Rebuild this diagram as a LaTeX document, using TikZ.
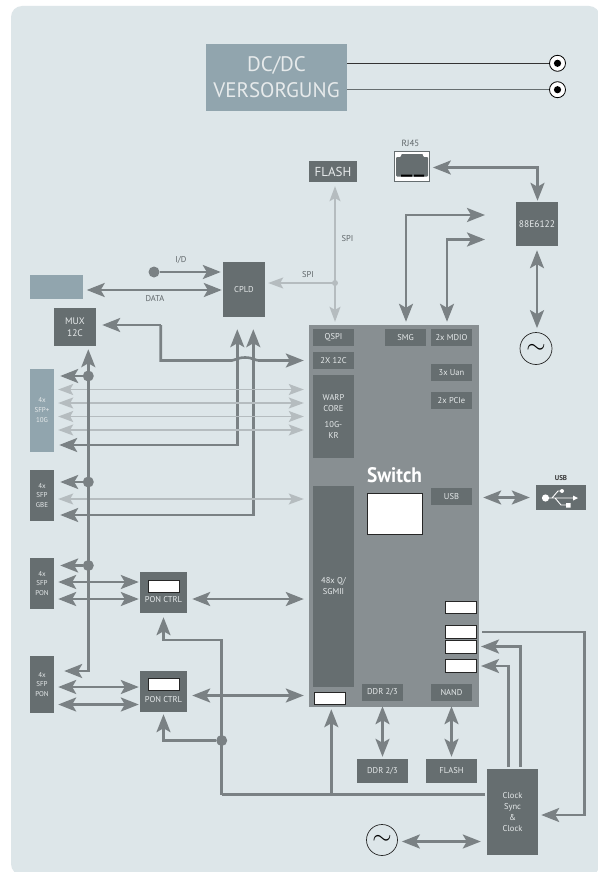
\documentclass[tikz,border=0pt]{standalone}
\usepackage{fontspec}
\setmainfont{PT Sans}
\usetikzlibrary{arrows.meta,calc}
\definecolor{panelbg}{HTML}{DDE6E9}
\definecolor{bluebox}{HTML}{91A5AE}
\definecolor{darkbox}{HTML}{666E70}
\definecolor{switchbg}{HTML}{888F92}
\definecolor{wire}{HTML}{7A8184}
\definecolor{litewire}{HTML}{B5BCBF}
\definecolor{boxtext}{HTML}{E6EAEB}
\definecolor{labeltext}{HTML}{5F6669}

\begin{document}
\begin{tikzpicture}[
    x=1pt, y=-1pt,
    block/.style={fill=darkbox, text=boxtext, align=center, inner sep=0pt, font=\fontsize{8.5}{11}\selectfont},
    blue/.style={block, fill=bluebox},
    port/.style={block, minimum width=41pt, minimum height=17pt},
    slot/.style={draw=black!85, line width=1pt, fill=white, inner sep=0pt},
    label/.style={text=labeltext, inner sep=0pt, font=\fontsize{8.5}{10}\selectfont},
    osc/.style={draw=black!85, fill=none, circle, inner sep=0pt, line width=0.7pt},
    dot/.style={circle, fill=wire, inner sep=0pt, minimum size=11pt},
    biggie/.style={line width=2.6pt, draw=wire, {Stealth[length=18pt,width=14pt,inset=4pt,fill=wire]}-{Stealth[length=18pt,width=14pt,inset=4pt,fill=wire]}},
    oneway/.style={line width=2.6pt, draw=wire, -{Stealth[length=18pt,width=14pt,inset=4pt,fill=wire]}},
    plain/.style={line width=2.6pt, draw=wire},
    lite/.style={line width=1.4pt, draw=litewire, {Stealth[length=15pt,width=11pt,inset=3pt,fill=litewire]}-{Stealth[length=15pt,width=11pt,inset=3pt,fill=litewire]}},
    liteone/.style={line width=1.4pt, draw=litewire, -{Stealth[length=15pt,width=11pt,inset=3pt,fill=litewire]}},
  ]
    \useasboundingbox (0,0) rectangle (597,872);
    \fill[white] (0,0) rectangle (597,872);
    \fill[panelbg, rounded corners=11pt] (11,6) rectangle (600,875);

    % supply
    \node[blue, minimum width=141pt, minimum height=67pt, font=\fontsize{21}{26}\selectfont] (dcdc) at (276.5,77.5) {DC/DC\\VERSORGUNG};
    \node[circle, draw=black, fill=white, line width=0.8pt, minimum size=16pt, inner sep=0pt] (pwra) at (557.5,63.3) {};
    \node[circle, draw=black, fill=white, line width=0.8pt, minimum size=16pt, inner sep=0pt] (pwrb) at (557.5,89.7) {};
    \fill[black] (pwra) circle (3.6pt) (pwrb) circle (3.6pt);
    \draw[line width=0.8pt, draw=black!80] (dcdc.east |- pwra) -- (pwra);
    \draw[line width=1.5pt, draw=darkbox] (dcdc.east |- pwrb) -- (pwrb);

    % top right
    \node[label, font=\fontsize{9}{10}\selectfont] (rjlabel) at (410.5,143.5) {RJ45};
    \node[draw=darkbox, fill=white, line width=0.7pt, minimum width=35pt, minimum height=30pt, inner sep=0pt] (rj) at (412,166.5) {};
    \fill[darkbox, rounded corners=1pt] (396,157) -- (401,157) -- (401,154) -- (423,154) -- (423,157) -- (428,157) -- (428,176.5) -- (396,176.5) -- cycle;
    \fill[black] (401,174.5) rectangle (412,176.5) (414,174.5) rectangle (424,176.5);
    \fill[white] (397,153) rectangle (401,155.5) (423,153) rectangle (427,155.5);
    \node[block, minimum width=42pt, minimum height=44pt, font=\fontsize{9.5}{11}\selectfont] (phy) at (537,224) {88E6122};
    \node[osc, minimum size=32pt] (oscb) at (536,348.5) {\fontsize{32}{32}\selectfont$\sim$};
    \node[block, minimum width=48pt, minimum height=21pt, font=\fontsize{13}{14}\selectfont] (flasha) at (333,171.5) {FLASH};
    \node[block, minimum width=42pt, minimum height=55pt] (cpld) at (244,289.5) {CPLD};
    \node[blue, minimum width=53pt, minimum height=24pt] (bluea) at (56.5,287) {};
    \node[block, minimum width=42pt, minimum height=38pt, font=\fontsize{9.5}{11.5}\selectfont] (mux) at (75,327) {MUX\\12C};
    \coordinate (iostart) at (154,272);
    \node[dot] (iodot) at (iostart) {};
    \coordinate (spijoin) at (335,283);

    % switch
    \node[fill=switchbg, minimum width=170pt, minimum height=382pt, inner sep=0pt] (sw) at (394,516) {};
    \node[port] (qspi) at (333.5,337.5) {QSPI};
    \node[port] (itwoc) at (333.5,360.5) {2X 12C};
    \node[block, minimum width=41pt, minimum height=83pt] (warp) at (333.5,416.5) {WARP\\CORE\\[5pt]10G-\\KR};
    \node[block, minimum width=41pt, minimum height=201pt] (sgmii) at (333.5,586.5) {48x Q/\\SGMII};
    \node[slot, minimum width=31pt, minimum height=12pt] (slotpon) at (329.5,698) {};
    \node[port] (smg) at (405.5,337.5) {SMG};
    \node[port] (mdio) at (451.5,337.5) {2x MDIO};
    \node[port] (uan) at (451.5,372.5) {3x Uan};
    \node[port] (pcie) at (451.5,400.5) {2x PCIe};
    \node[port] (usbp) at (451.5,496.5) {USB};
    \node[port] (ddrp) at (382.5,692.5) {DDR 2/3};
    \node[port] (nand) at (451.5,692.5) {NAND};
    \node[text=white, inner sep=0pt, font=\fontsize{21}{24}\bfseries\selectfont, xscale=0.92] (swname) at (394.5,475) {Switch};
    \node[slot, minimum width=55pt, minimum height=41pt] (slotmain) at (394.5,514) {};
    \node[slot, minimum width=31pt, minimum height=12pt] (slota) at (461,607) {};
    \node[slot, minimum width=31pt, minimum height=13pt] (slotb) at (461,632) {};
    \node[slot, minimum width=31pt, minimum height=13pt] (slotc) at (461,646.5) {};
    \node[slot, minimum width=31pt, minimum height=13pt] (slotd) at (461,666) {};

    % ports on the left
    \node[blue, minimum width=24pt, minimum height=83pt, font=\fontsize{7}{10}\selectfont] (sfpten) at (42,410.5) {4x\\SFP+\\10G};
    \node[block, minimum width=24pt, minimum height=51pt, font=\fontsize{7}{9.5}\selectfont] (sfpgbe) at (42,495.5) {4x\\SFP\\GBE};
    \node[block, minimum width=24pt, minimum height=51pt, font=\fontsize{7}{9.5}\selectfont] (sfpa) at (42,583.5) {4x\\SFP\\PON};
    \node[block, minimum width=24pt, minimum height=57pt, font=\fontsize{7}{9.5}\selectfont] (sfpb) at (42,684.5) {4x\\SFP\\PON};
    \node[block, minimum width=47pt, minimum height=41pt] (ponctrla) at (163.5,592.5) {};
    \node[block, minimum width=47pt, minimum height=41pt] (ponctrlb) at (163.5,691.5) {};
    \node[slot, minimum width=31pt, minimum height=12pt] (slotctrla) at (163.5,586.5) {};
    \node[slot, minimum width=31pt, minimum height=12pt] (slotctrlb) at (163.5,684.5) {};
    \node[block, fill=none] (ponlabela) at (163.5,600) {PON CTRL};
    \node[block, fill=none] (ponlabelb) at (163.5,700) {PON CTRL};

    % bottom right
    \node[block, minimum width=51pt, minimum height=24pt] (ddr) at (382.5,771) {DDR 2/3};
    \node[block, minimum width=51pt, minimum height=24pt] (flashb) at (451.5,771) {FLASH};
    \node[block, minimum width=51pt, minimum height=86pt, font=\fontsize{8.5}{11.3}\selectfont] (clock) at (512.5,812) {Clock\\Sync\\\&\\Clock};
    \node[osc, minimum size=31pt] (osca) at (382,840) {\fontsize{32}{32}\selectfont$\sim$};
    \node[block, minimum width=50pt, minimum height=25pt] (usbbox) at (561,497.5) {};
    \node[inner sep=0pt, text=black!80, font=\fontsize{7}{9}\bfseries\selectfont] (usbname) at (561,478) {USB};
    \fill[white] (545.5,498) circle (3.6pt);
    \draw[white, line width=0.9pt] (545.5,498) -- (574,498) (552,498) -- (558,491) -- (562,491) (555,498) -- (561,505) -- (567,505);
    \fill[white] (578,498) -- (573,495.5) -- (573,500.5) -- cycle (562,491) circle (2pt) (566,503) rectangle (570.5,507.5);

    % spi
    \fill[litewire] (spijoin) circle (3pt);
    \draw[lite, shorten <=4pt, shorten >=3pt] (flasha.south -| spijoin) -- (sw.north -| spijoin);
    \draw[liteone, shorten >=3pt] (spijoin) -- (cpld.east |- spijoin);
    \node[label] (spilabela) at (347.5,239) {SPI};
    \node[label] (spilabelb) at (308,275) {SPI};

    % cpld
    \draw[oneway, shorten >=2pt] (iodot) -- (cpld.west |- iodot);
    \node[label] (iolabel) at (181,260) {I/D};
    \draw[biggie, shorten <=3.5pt, shorten >=1pt] (bluea.east |- 0,290) -- (cpld.west |- 0,290);
    \node[label] (datalabel) at (155,298.5) {DATA};
    \coordinate (muxbend) at (160.7,325);
    \coordinate (hopa) at (232,360.5);
    \coordinate (hopb) at (258,360.5);
    \draw[oneway, shorten >=6pt] (muxbend) -- (mux.east |- muxbend);
    \draw[plain] (muxbend) -- (muxbend |- hopa) -- (hopa) .. controls (236,360.5) and (237,357.5) .. (245,357.5) .. controls (253,357.5) and (254,360.5) .. (hopb);
    \draw[oneway, shorten >=5pt] (hopb) -- (sw.west |- hopb);

    % uplinks to the cpld
    \coordinate (upa) at (237.3,329);
    \coordinate (upb) at (253.3,329);
    \draw[biggie, shorten <=5pt, shorten >=12pt] (sfpten.east |- 0,445) -| (cpld.south -| upa);
    \draw[biggie, shorten <=6pt, shorten >=12pt] (sfpgbe.east |- 0,515) -| (cpld.south -| upb);

    % light lanes
    \foreach \lane in {389.5,403,416.5,430} {
      \draw[lite, shorten <=4pt, shorten >=5pt] (sfpten.east |- 0,\lane) -- (sw.west |- 0,\lane);
    }
    \draw[lite, shorten <=4pt, shorten >=5pt] (sfpgbe.east |- 0,499) -- (sw.west |- 0,499);

    % i2c bus
    \coordinate (busend) at (88.3,671);
    \node[dot] (busa) at (88.3,376) {};
    \node[dot] (busb) at (88.3,482) {};
    \node[dot] (busc) at (88.3,565.5) {};
    \draw[biggie, shorten <=10pt, shorten >=3pt] (sfpb.east |- busend) -| (mux.south -| busend);
    \draw[oneway, shorten >=6pt] (busa) -- (sfpten.east |- busa);
    \draw[oneway, shorten >=6pt] (busb) -- (sfpgbe.east |- busb);
    \draw[oneway, shorten >=6pt] (busc) -- (sfpa.east |- busc);

    % pon
    \draw[biggie, shorten <=4pt, shorten >=1pt] (sfpa.east |- 0,582) -- (ponctrla.west |- 0,582);
    \draw[biggie, shorten <=4pt, shorten >=1pt] (sfpa.east |- 0,599) -- (ponctrla.west |- 0,599);
    \draw[biggie, shorten <=4pt, shorten >=1pt] (sfpb.east |- 0,687) -- (ponctrlb.west |- 0,687);
    \draw[biggie, shorten <=4pt, shorten >=1pt] (sfpb.east |- 0,704.5) -- (ponctrlb.west |- 0,704.5);
    \draw[biggie, shorten <=5pt, shorten >=5pt] (ponctrla.east |- 0,599) -- (sw.west |- 0,599);
    \draw[biggie, shorten <=5pt, shorten >=5pt] (ponctrlb.east |- 0,695.5) -- (sw.west |- 0,695.5);

    % clock tree
    \coordinate (clkbend) at (221.7,794.5);
    \coordinate (clktop) at (221.7,640);
    \coordinate (swtap) at (331.3,794.5);
    \node[dot] (clkdot) at (221.7,740.5) {};
    \draw[oneway, shorten >=4pt] (clkbend) -- (clktop) -| (ponctrla.south);
    \draw[oneway, shorten >=2pt] (clkdot) -| (ponctrlb.south);
    \draw[plain, shorten >=2pt] (clkbend) -- (clock.west |- clkbend);
    \draw[oneway, shorten >=2pt] (swtap) -- (sw.south -| swtap);
    \draw[biggie, shorten >=6pt] (usbp.east |- usbbox) ++(11pt,0) -- (usbbox.west);
    \draw[biggie, shorten <=5pt, shorten >=2pt] (ddrp.south) -- (ddr.north);
    \draw[biggie, shorten <=5pt, shorten >=2pt] (nand.south) -- (flashb.north);
    \draw[biggie, shorten <=4pt, shorten >=6pt] (osca.east |- 0,841.5) -- (clock.west |- 0,841.5);

    % clock feedback
    \coordinate (fbstart) at (482,632);
    \coordinate (fbtop) at (584.5,632);
    \coordinate (clkup) at (520.5,769);
    \coordinate (clkupb) at (508.5,769);
    \draw[oneway, shorten >=3pt] (fbstart) -- (fbtop) |- (clock.east |- 0,815);
    \draw[oneway, shorten <=2pt, shorten >=4pt] (clkup) |- (slotc.east);
    \draw[oneway, shorten <=2pt, shorten >=4pt] (clkupb) |- (slotd.east);

    % mgmt links
    \coordinate (smgbend) at (406,215);
    \coordinate (mdiobend) at (447,239.5);
    \coordinate (phyin) at (485,215);
    \coordinate (phyinb) at (485,239.5);
    \coordinate (rjbend) at (537.5,167.5);
    \draw[biggie, shorten <=3pt] (sw.north -| smgbend) -- (smgbend) -- (phyin);
    \draw[biggie, shorten <=3pt] (sw.north -| mdiobend) -- (mdiobend) -- (phyinb);
    \draw[biggie, shorten <=3pt, shorten >=1pt] (rj.east |- rjbend) -- (rjbend) -- (phy.north -| rjbend);
    \draw[biggie, shorten <=4pt, shorten >=4pt] (phy.south) -- (oscb.north -| phy.south);
  \end{tikzpicture}
\end{document}
